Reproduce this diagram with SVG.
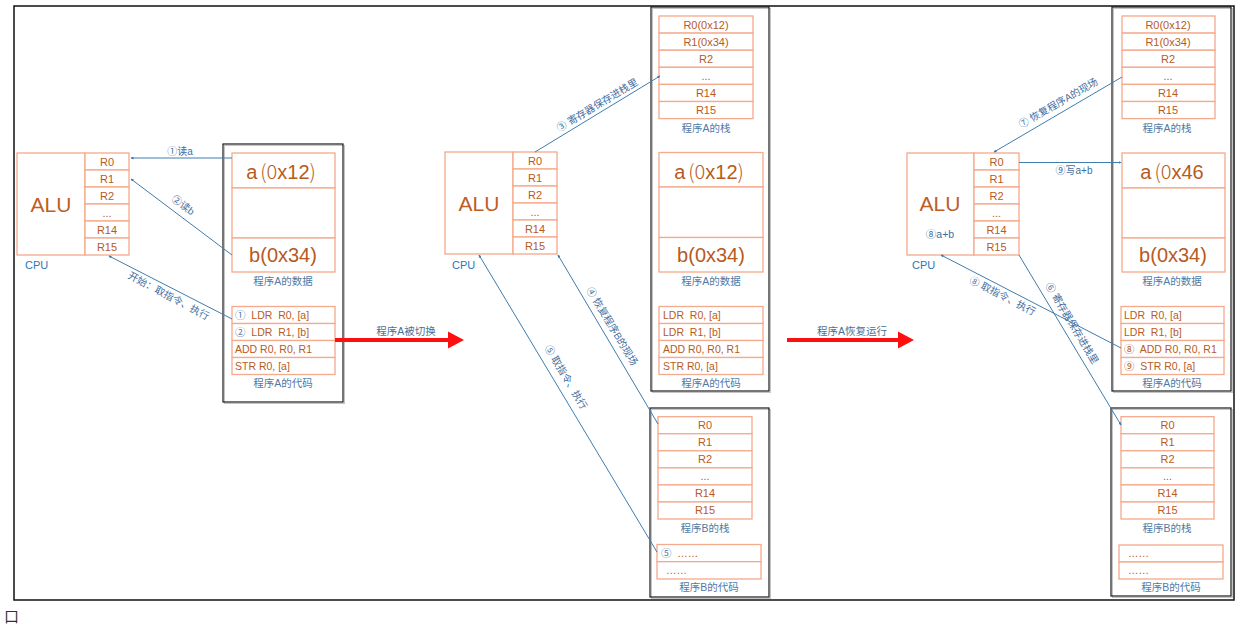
<svg xmlns="http://www.w3.org/2000/svg" width="1260" height="625" viewBox="0 0 1260 625">
<style>
text{font-family:"Liberation Sans","Noto Sans CJK SC",sans-serif}
.frame{fill:none;stroke:#111;stroke-width:1.5}
.box{fill:none;stroke:#1a1a1a;stroke-width:1.2}
.shadow{fill:none;stroke:#c4c4c4;stroke-width:1}
.cell{fill:#fff;stroke:#F4AA8C;stroke-width:1.3}
.reg{font-size:11px;fill:#B85A1E;text-anchor:middle}
.alu{font-size:21px;fill:#BF5E24;text-anchor:middle}
.big{font-size:20px;fill:#B85A1E;text-anchor:middle}
.thin{font-family:"Noto Sans CJK SC",sans-serif;font-weight:300}
.code{font-size:10.5px;fill:#B85A1E;white-space:pre}
.num{fill:#4F7AA6}
.lbl{font-size:10.5px;fill:#4F7AA6;text-anchor:middle}
.cpu{font-size:11px;fill:#2E75B6}
.conn{stroke:#3F7DAF;stroke-width:1;fill:none}
.clab{font-size:10px;fill:#3F6EA0;text-anchor:middle}
.red{stroke:#FF1010;stroke-width:4;fill:none}
.redhead{fill:#FF1010}
.rlab{font-size:10.5px;fill:#4A6F94;text-anchor:middle}
</style>
<defs>
<marker id="ah" viewBox="0 0 6 6" refX="5" refY="3" markerWidth="3" markerHeight="3" orient="auto-start-reverse">
<path d="M0,0 L6,3 L0,6 z" fill="#3F7DAF"/>
</marker>
</defs>

<rect class="frame" x="14" y="6" width="1220" height="594"/>
<text x="4" y="622" font-size="15" fill="#333">口</text>

<!-- ===== LEFT PANEL ===== -->
<g id="cpu-left">
<rect class="cell" x="17" y="153" width="68" height="102"/>
<text class="alu" x="51" y="212">ALU</text>
<rect class="cell" x="85" y="153" width="44" height="17"/>
<rect class="cell" x="85" y="170" width="44" height="17"/>
<rect class="cell" x="85" y="187" width="44" height="17"/>
<rect class="cell" x="85" y="204" width="44" height="17"/>
<rect class="cell" x="85" y="221" width="44" height="17"/>
<rect class="cell" x="85" y="238" width="44" height="17"/>
<text class="reg" x="107" y="165.5">R0</text>
<text class="reg" x="107" y="182.5">R1</text>
<text class="reg" x="107" y="199.5">R2</text>
<text class="reg" x="107" y="216.5">...</text>
<text class="reg" x="107" y="233.5">R14</text>
<text class="reg" x="107" y="250.5">R15</text>
<text class="cpu" x="25" y="269">CPU</text>
</g>

<g id="progA-left">
<rect class="shadow" x="224.5" y="145.5" width="120" height="258"/>
<rect class="box" x="223" y="144" width="120" height="258"/>
<rect class="cell" x="232" y="153" width="103" height="35"/>
<rect class="cell" x="232" y="188" width="103" height="50"/>
<rect class="cell" x="232" y="238" width="103" height="34"/>
<text class="big" x="281" y="179">a<tspan class="thin" dx="3">(0</tspan>x12<tspan class="thin">)</tspan></text>
<text class="big" x="283" y="262">b(0x34)</text>
<text class="lbl" x="283" y="285">程序A的数据</text>
<rect class="cell" x="232" y="306.5" width="103" height="17"/>
<rect class="cell" x="232" y="323.5" width="103" height="17"/>
<rect class="cell" x="232" y="340.5" width="103" height="17"/>
<rect class="cell" x="232" y="357.5" width="103" height="17"/>
<text class="code" x="235" y="319"><tspan class="num">①</tspan>  LDR  R0, [a]</text>
<text class="code" x="235" y="336"><tspan class="num">②</tspan>  LDR  R1, [b]</text>
<text class="code" x="235" y="353">ADD R0, R0, R1</text>
<text class="code" x="235" y="370">STR R0, [a]</text>
<text class="lbl" x="283" y="387">程序A的代码</text>
</g>

<!-- ===== MIDDLE PANEL ===== -->
<g id="cpu-mid">
<rect class="cell" x="445" y="152" width="68" height="102"/>
<text class="alu" x="479" y="211">ALU</text>
<rect class="cell" x="513" y="152" width="44" height="17"/>
<rect class="cell" x="513" y="169" width="44" height="17"/>
<rect class="cell" x="513" y="186" width="44" height="17"/>
<rect class="cell" x="513" y="203" width="44" height="17"/>
<rect class="cell" x="513" y="220" width="44" height="17"/>
<rect class="cell" x="513" y="237" width="44" height="17"/>
<text class="reg" x="535" y="164.5">R0</text>
<text class="reg" x="535" y="181.5">R1</text>
<text class="reg" x="535" y="198.5">R2</text>
<text class="reg" x="535" y="215.5">...</text>
<text class="reg" x="535" y="232.5">R14</text>
<text class="reg" x="535" y="249.5">R15</text>
<text class="cpu" x="452" y="269">CPU</text>
</g>

<g id="progA-mid">
<rect class="shadow" x="652.5" y="8.5" width="118" height="384"/>
<rect class="box" x="651" y="7" width="118" height="384"/>
<rect class="cell" x="659" y="16" width="94" height="17.1"/>
<rect class="cell" x="659" y="33.1" width="94" height="17.1"/>
<rect class="cell" x="659" y="50.2" width="94" height="17.1"/>
<rect class="cell" x="659" y="67.3" width="94" height="17.1"/>
<rect class="cell" x="659" y="84.4" width="94" height="17.1"/>
<rect class="cell" x="659" y="101.5" width="94" height="17.1"/>
<text class="reg" x="706" y="28.5">R0(0x12)</text>
<text class="reg" x="706" y="45.6">R1(0x34)</text>
<text class="reg" x="706" y="62.7">R2</text>
<text class="reg" x="706" y="79.8">...</text>
<text class="reg" x="706" y="96.9">R14</text>
<text class="reg" x="706" y="114">R15</text>
<text class="lbl" x="706" y="132">程序A的栈</text>
<rect class="cell" x="659" y="152.5" width="104" height="34.5"/>
<rect class="cell" x="659" y="187" width="104" height="50.5"/>
<rect class="cell" x="659" y="237.5" width="104" height="34.5"/>
<text class="big" x="709" y="178.5">a<tspan class="thin" dx="3">(0</tspan>x12<tspan class="thin">)</tspan></text>
<text class="big" x="711" y="262">b(0x34)</text>
<text class="lbl" x="711" y="285">程序A的数据</text>
<rect class="cell" x="659" y="306.5" width="104" height="17"/>
<rect class="cell" x="659" y="323.5" width="104" height="17"/>
<rect class="cell" x="659" y="340.5" width="104" height="17"/>
<rect class="cell" x="659" y="357.5" width="104" height="17"/>
<text class="code" x="663" y="319">LDR  R0, [a]</text>
<text class="code" x="663" y="336">LDR  R1, [b]</text>
<text class="code" x="663" y="353">ADD R0, R0, R1</text>
<text class="code" x="663" y="370">STR R0, [a]</text>
<text class="lbl" x="711" y="387">程序A的代码</text>
</g>

<g id="progB-mid">
<rect class="shadow" x="651.5" y="409.5" width="119" height="189"/>
<rect class="box" x="650" y="408" width="119" height="189"/>
<rect class="cell" x="658" y="416.7" width="94" height="17.05"/>
<rect class="cell" x="658" y="433.75" width="94" height="17.05"/>
<rect class="cell" x="658" y="450.8" width="94" height="17.05"/>
<rect class="cell" x="658" y="467.85" width="94" height="17.05"/>
<rect class="cell" x="658" y="484.9" width="94" height="17.05"/>
<rect class="cell" x="658" y="501.95" width="94" height="17.05"/>
<text class="reg" x="705" y="429.2">R0</text>
<text class="reg" x="705" y="446.2">R1</text>
<text class="reg" x="705" y="463.3">R2</text>
<text class="reg" x="705" y="480.3">...</text>
<text class="reg" x="705" y="497.4">R14</text>
<text class="reg" x="705" y="514.4">R15</text>
<text class="lbl" x="705" y="532">程序B的栈</text>
<rect class="cell" x="657" y="544.5" width="104" height="17.2"/>
<rect class="cell" x="657" y="561.7" width="104" height="17.3"/>
<text class="code" x="661" y="557"><tspan class="num">⑤</tspan>  ……</text>
<text class="code" x="666" y="574">……</text>
<text class="lbl" x="709" y="591">程序B的代码</text>
</g>

<!-- ===== RIGHT PANEL ===== -->
<g id="cpu-right">
<rect class="cell" x="907" y="153" width="67" height="102"/>
<text class="alu" x="940" y="211">ALU</text>
<text class="clab" x="940" y="238" style="font-size:10.5px">⑧a+b</text>
<rect class="cell" x="974" y="153" width="45" height="17"/>
<rect class="cell" x="974" y="170" width="45" height="17"/>
<rect class="cell" x="974" y="187" width="45" height="17"/>
<rect class="cell" x="974" y="204" width="45" height="17"/>
<rect class="cell" x="974" y="221" width="45" height="17"/>
<rect class="cell" x="974" y="238" width="45" height="17"/>
<text class="reg" x="996.5" y="165.5">R0</text>
<text class="reg" x="996.5" y="182.5">R1</text>
<text class="reg" x="996.5" y="199.5">R2</text>
<text class="reg" x="996.5" y="216.5">...</text>
<text class="reg" x="996.5" y="233.5">R14</text>
<text class="reg" x="996.5" y="250.5">R15</text>
<text class="cpu" x="912" y="269">CPU</text>
</g>

<g id="progA-right">
<rect class="shadow" x="1113.5" y="8.5" width="119" height="384"/>
<rect class="box" x="1112" y="7" width="119" height="384"/>
<rect class="cell" x="1122" y="16" width="93" height="17.1"/>
<rect class="cell" x="1122" y="33.1" width="93" height="17.1"/>
<rect class="cell" x="1122" y="50.2" width="93" height="17.1"/>
<rect class="cell" x="1122" y="67.3" width="93" height="17.1"/>
<rect class="cell" x="1122" y="84.4" width="93" height="17.1"/>
<rect class="cell" x="1122" y="101.5" width="93" height="17.1"/>
<text class="reg" x="1168" y="28.5">R0(0x12)</text>
<text class="reg" x="1168" y="45.6">R1(0x34)</text>
<text class="reg" x="1168" y="62.7">R2</text>
<text class="reg" x="1168" y="79.8">...</text>
<text class="reg" x="1168" y="96.9">R14</text>
<text class="reg" x="1168" y="114">R15</text>
<text class="lbl" x="1167" y="132">程序A的栈</text>
<rect class="cell" x="1122" y="153" width="103" height="35"/>
<rect class="cell" x="1122" y="188" width="103" height="50"/>
<rect class="cell" x="1122" y="238" width="103" height="34"/>
<text class="big" x="1172" y="179">a<tspan class="thin" dx="3">(0</tspan>x46</text>
<text class="big" x="1173" y="262">b(0x34)</text>
<text class="lbl" x="1172" y="285">程序A的数据</text>
<rect class="cell" x="1121" y="306.5" width="103" height="17"/>
<rect class="cell" x="1121" y="323.5" width="103" height="17"/>
<rect class="cell" x="1121" y="340.5" width="103" height="17"/>
<rect class="cell" x="1121" y="357.5" width="103" height="17"/>
<text class="code" x="1124" y="319">LDR  R0, [a]</text>
<text class="code" x="1124" y="336">LDR  R1, [b]</text>
<text class="code" x="1124" y="353">⑧  ADD R0, R0, R1</text>
<text class="code" x="1124" y="370">⑨  STR R0, [a]</text>
<text class="lbl" x="1172" y="387">程序A的代码</text>
</g>

<g id="progB-right">
<rect class="shadow" x="1112.5" y="409.5" width="120" height="188"/>
<rect class="box" x="1111" y="408" width="120" height="188"/>
<rect class="cell" x="1121" y="416.7" width="93" height="17.05"/>
<rect class="cell" x="1121" y="433.75" width="93" height="17.05"/>
<rect class="cell" x="1121" y="450.8" width="93" height="17.05"/>
<rect class="cell" x="1121" y="467.85" width="93" height="17.05"/>
<rect class="cell" x="1121" y="484.9" width="93" height="17.05"/>
<rect class="cell" x="1121" y="501.95" width="93" height="17.05"/>
<text class="reg" x="1167.5" y="429.2">R0</text>
<text class="reg" x="1167.5" y="446.2">R1</text>
<text class="reg" x="1167.5" y="463.3">R2</text>
<text class="reg" x="1167.5" y="480.3">...</text>
<text class="reg" x="1167.5" y="497.4">R14</text>
<text class="reg" x="1167.5" y="514.4">R15</text>
<text class="lbl" x="1167" y="532">程序B的栈</text>
<rect class="cell" x="1119" y="545" width="104" height="17"/>
<rect class="cell" x="1119" y="562" width="104" height="17"/>
<text class="code" x="1128" y="557">……</text>
<text class="code" x="1128" y="574">……</text>
<text class="lbl" x="1171" y="591">程序B的代码</text>
</g>

<!-- ===== CONNECTORS ===== -->
<g id="connectors">
<line class="conn" x1="131" y1="158" x2="232" y2="158" marker-start="url(#ah)"/>
<text class="clab" x="180" y="155">①读a</text>
<line class="conn" x1="131" y1="179" x2="232" y2="255" marker-start="url(#ah)"/>
<text class="clab" transform="translate(181,208) rotate(37)">②读b</text>
<line class="conn" x1="109" y1="256" x2="232" y2="319" marker-start="url(#ah)"/>
<text class="clab" transform="translate(167,299) rotate(28)">开始：取指令、执行</text>

<line class="conn" x1="535" y1="152" x2="660" y2="76" marker-end="url(#ah)"/>
<text class="clab" transform="translate(599,108) rotate(-31)">③ 寄存器保存进栈里</text>
<line class="conn" x1="558" y1="255" x2="658" y2="424" marker-start="url(#ah)"/>
<text class="clab" transform="translate(609,328) rotate(59)">④ 恢复程序B的现场</text>
<line class="conn" x1="479" y1="255" x2="657" y2="552" marker-start="url(#ah)"/>
<text class="clab" transform="translate(563,379) rotate(59)">⑤ 取指令、执行</text>

<line class="conn" x1="994" y1="152" x2="1122" y2="77" marker-start="url(#ah)"/>
<text class="clab" transform="translate(1060,106) rotate(-30)">⑦ 恢复程序A的现场</text>
<line class="conn" x1="1019" y1="162.5" x2="1121" y2="162.5" marker-end="url(#ah)"/>
<text class="clab" x="1074" y="174">⑨写a+b</text>
<line class="conn" x1="941" y1="255" x2="1121" y2="348" marker-start="url(#ah)"/>
<text class="clab" transform="translate(1001,299) rotate(27)">⑧ 取指令、执行</text>
<line class="conn" x1="1019" y1="255" x2="1121" y2="425" marker-end="url(#ah)"/>
<text class="clab" transform="translate(1069,325) rotate(59)">⑥ 寄存器保存进栈里</text>

<line class="red" x1="335" y1="340" x2="450" y2="340"/>
<polygon class="redhead" points="448,331.5 464,340 448,348.5"/>
<text class="rlab" x="406" y="335">程序A被切换</text>
<line class="red" x1="787" y1="340" x2="900" y2="340"/>
<polygon class="redhead" points="898,331.5 914,340 898,348.5"/>
<text class="rlab" x="852" y="335">程序A恢复运行</text>
</g>
</svg>
